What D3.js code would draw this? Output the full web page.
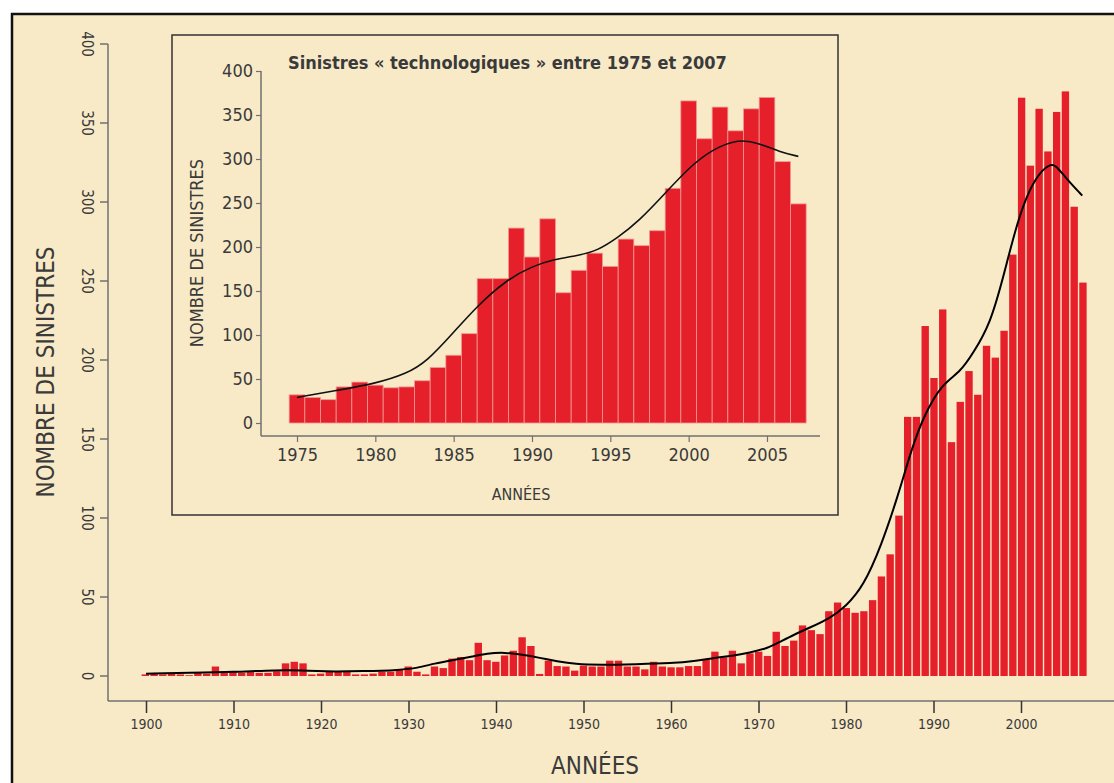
<!DOCTYPE html>
<meta charset="utf-8">
<style>
  body, html { margin: 0; padding: 0; background: #fff; }
  svg { display: block; }
  text { font-family: "Liberation Sans Narrow", "DejaVu Sans Condensed", "Liberation Sans", sans-serif; fill: #3a3a3a; }
</style>
<body>
<svg width="1114" height="783"></svg>
<script src="https://cdnjs.cloudflare.com/ajax/libs/d3/7.8.5/d3.min.js"></script>
<script>
// yearly counts 1900-2007
var startYear = 1900;
var counts = [
  1, 1.5, 1, 1.5, 1, 0.5, 2, 1.5, 6, 2,            // 1900-1909
  2.5, 2, 2.5, 2, 2, 3, 8, 9, 8, 1,                // 1910-1919
  1.5, 3, 3, 3, 1, 1, 1.5, 2.7, 2.7, 4,            // 1920-1929
  6, 2.7, 1, 6, 5, 11, 12, 10, 21, 10,             // 1930-1939
  9, 13, 16, 24.5, 19, 1.3, 9.7, 6.3, 6, 3.4,      // 1940-1949
  6.5, 6, 6, 9.7, 9.7, 6, 6, 4.2, 9, 6,            // 1950-1959
  5.5, 5.5, 6.3, 6.3, 10.5, 15.4, 11.8, 16, 8, 14.3, // 1960-1969
  15.4, 12.7, 28, 19, 22.4, 32, 29, 26.5, 41, 46.5,  // 1970-1979
  43, 40, 41, 48, 63, 77, 101.5, 164, 164, 221.5,    // 1980-1989
  188.6, 232, 148, 173.5, 193, 178, 209, 201.5, 218.5, 266.7, // 1990-1999
  366, 323, 359, 332, 357, 370, 297, 249            // 2000-2007
];

// smoothed trend drawn on the main chart
var trendYears = [1900, 1905, 1910, 1915, 1918, 1920, 1925, 1929, 1931, 1933, 1935, 1937, 1939, 1941,
  1943, 1945, 1947, 1949, 1952, 1956, 1960, 1963, 1965, 1967, 1969, 1971, 1972.5, 1974, 1976, 1978,
  1980, 1982, 1984, 1986, 1987.5, 1989, 1991, 1993, 1994.5, 1996.5, 1998, 1999.5, 2001, 2002.5,
  2003.5, 2004, 2005, 2007];
var trendValues = [1.5, 2, 2.5, 3.8, 3.5, 2.8, 3, 3.8, 5, 8, 10, 12, 14.3, 15,
  13.5, 11.5, 9.3, 7.5, 7, 7.5, 8, 9.7, 11.5, 12.7, 14.8, 17.5, 21.7, 26, 31, 36,
  44, 57, 82, 115, 144, 166, 185, 192, 204, 223, 253, 286, 309, 321,
  324, 323, 316, 304];

// smoothed trend of the inset
var insetTrendYears = [1975, 1977.5, 1980, 1982, 1983.3, 1985, 1986.5, 1988.4, 1990, 1991.4, 1993,
  1994.2, 1995.5, 1996.8, 1998.5, 2000, 2001.5, 2003.2, 2004.5, 2005.8, 2007];
var insetTrendValues = [29, 37, 44.7, 56, 70, 103, 133, 163, 178, 186, 190.5,
  196, 211, 229, 261, 290, 311, 323, 318, 308, 303];

var yTicks = [0, 50, 100, 150, 200, 250, 300, 350, 400];
var xTicksMain = [1900, 1910, 1920, 1930, 1940, 1950, 1960, 1970, 1980, 1990, 2000];
var xTicksInset = [1975, 1980, 1985, 1990, 1995, 2000, 2005];
var insetStart = 1975;

var data = counts.map(function(v, i) { return {year: startYear + i, value: v}; });
var insetData = data.filter(function(d) { return d.year >= insetStart; });

var svg = d3.select("svg");
var barColor = "#e5202a";
var axisColor = "#707070";

// cream panel with black frame
svg.append("rect")
    .attr("x", 12).attr("y", 14)
    .attr("width", 1114).attr("height", 783)
    .attr("fill", "#f8eac7")
    .attr("stroke", "#111")
    .attr("stroke-width", 2.5);

// ---------- main chart ----------
var x = d3.scaleLinear().domain([1900, 2000]).range([146, 1021]);
var y = d3.scaleLinear().domain([0, 400]).range([676, 44]);
var xb = d3.scaleBand()
    .domain(data.map(function(d) { return d.year; }))
    .range([x(1899.5), x(2007.5)])
    .paddingInner(0.16);
var axisY = 701, axisX = 108;

var g = svg.append("g");

g.selectAll(".bar")
    .data(data)
    .enter().append("rect")
    .attr("class", "bar")
    .attr("x", function(d) { return xb(d.year); })
    .attr("y", function(d) { return y(d.value); })
    .attr("width", xb.bandwidth())
    .attr("height", function(d) { return y(0) - y(d.value); })
    .attr("fill", barColor);

var line = d3.line()
    .x(function(d) { return x(d[0]); })
    .y(function(d) { return y(d[1]); })
    .curve(d3.curveBasis);

g.append("path")
    .datum(d3.zip(trendYears, trendValues))
    .attr("d", line)
    .attr("fill", "none")
    .attr("stroke", "#000")
    .attr("stroke-width", 2);

// y axis
g.append("line")
    .attr("x1", axisX).attr("x2", axisX)
    .attr("y1", y(400)).attr("y2", axisY)
    .attr("stroke", axisColor).attr("stroke-width", 1.5);
g.selectAll(".ytick")
    .data(yTicks)
    .enter().append("line")
    .attr("x1", axisX - 8).attr("x2", axisX)
    .attr("y1", function(d) { return y(d); })
    .attr("y2", function(d) { return y(d); })
    .attr("stroke", axisColor).attr("stroke-width", 1.5);
g.selectAll(".ylab")
    .data(yTicks)
    .enter().append("text")
    .attr("transform", function(d) { return "translate(82," + y(d) + ") rotate(90)"; })
    .attr("text-anchor", "middle")
    .style("font-size", "15px")
    .text(function(d) { return d; });

// x axis
g.append("line")
    .attr("x1", axisX).attr("x2", 1114)
    .attr("y1", axisY).attr("y2", axisY)
    .attr("stroke", axisColor).attr("stroke-width", 1.5);
var xAxis = g.append("g")
    .attr("transform", "translate(0," + axisY + ")")
    .call(d3.axisBottom(x).tickValues(xTicksMain).tickFormat(d3.format("d")).tickSize(12).tickPadding(6));
xAxis.select(".domain").remove();
xAxis.selectAll(".tick line").attr("stroke", "#333").attr("stroke-width", 1.5);
xAxis.selectAll(".tick text")
    .style("font-family", "'Liberation Sans Narrow', 'DejaVu Sans Condensed', sans-serif")
    .style("font-size", "14px")
    .attr("fill", "#3a3a3a");

g.append("text")
    .attr("transform", "translate(54,372) rotate(-90)")
    .attr("text-anchor", "middle")
    .style("font-size", "24px")
    .text("NOMBRE DE SINISTRES");
g.append("text")
    .attr("x", 595).attr("y", 774)
    .attr("text-anchor", "middle")
    .style("font-size", "24px")
    .text("ANNÉES");

// ---------- inset ----------
var gi = svg.append("g");
gi.append("rect")
    .attr("x", 172).attr("y", 35)
    .attr("width", 666).attr("height", 480)
    .attr("fill", "#f8eac7")
    .attr("stroke", "#333")
    .attr("stroke-width", 1.5);

var xi = d3.scaleLinear().domain([1975, 2005]).range([297, 767]);
var yi = d3.scaleLinear().domain([0, 400]).range([423, 71]);
var xib = d3.scaleBand()
    .domain(insetData.map(function(d) { return d.year; }))
    .range([xi(1974.5), xi(2007.5)])
    .paddingInner(0);
var iAxisY = 436, iAxisX = 261;

gi.selectAll(".ibar")
    .data(insetData)
    .enter().append("rect")
    .attr("class", "ibar")
    .attr("x", function(d) { return xib(d.year); })
    .attr("y", function(d) { return yi(d.value); })
    .attr("width", xib.bandwidth())
    .attr("height", function(d) { return yi(0) - yi(d.value); })
    .attr("fill", barColor)
    .attr("stroke", "#f29a92")
    .attr("stroke-width", 0.8);

var iline = d3.line()
    .x(function(d) { return xi(d[0]); })
    .y(function(d) { return yi(d[1]); })
    .curve(d3.curveBasis);

gi.append("path")
    .datum(d3.zip(insetTrendYears, insetTrendValues))
    .attr("d", iline)
    .attr("fill", "none")
    .attr("stroke", "#111")
    .attr("stroke-width", 1.6);

gi.append("line")
    .attr("x1", iAxisX).attr("x2", iAxisX)
    .attr("y1", yi(400)).attr("y2", iAxisY)
    .attr("stroke", axisColor).attr("stroke-width", 1.5);
gi.append("line")
    .attr("x1", iAxisX).attr("x2", 820)
    .attr("y1", iAxisY).attr("y2", iAxisY)
    .attr("stroke", axisColor).attr("stroke-width", 1.5);

var yAxisI = gi.append("g")
    .attr("transform", "translate(" + iAxisX + ",0)")
    .call(d3.axisLeft(yi).tickValues(yTicks).tickSize(5).tickPadding(3));
yAxisI.select(".domain").remove();
yAxisI.selectAll(".tick line").attr("stroke", axisColor).attr("stroke-width", 1.2);
yAxisI.selectAll(".tick text")
    .style("font-family", "'Liberation Sans Narrow', 'DejaVu Sans Condensed', sans-serif")
    .style("font-size", "18px")
    .attr("fill", "#3a3a3a");

var xAxisI = gi.append("g")
    .attr("transform", "translate(0," + iAxisY + ")")
    .call(d3.axisBottom(xi).tickValues(xTicksInset).tickFormat(d3.format("d")).tickSize(6).tickPadding(6));
xAxisI.select(".domain").remove();
xAxisI.selectAll(".tick line").attr("stroke", axisColor).attr("stroke-width", 1.2);
xAxisI.selectAll(".tick text")
    .style("font-family", "'Liberation Sans Narrow', 'DejaVu Sans Condensed', sans-serif")
    .style("font-size", "18px")
    .attr("fill", "#3a3a3a");

gi.append("text")
    .attr("transform", "translate(203,253) rotate(-90)")
    .attr("text-anchor", "middle")
    .style("font-size", "18px")
    .text("NOMBRE DE SINISTRES");
gi.append("text")
    .attr("x", 521).attr("y", 500)
    .attr("text-anchor", "middle")
    .style("font-size", "16px")
    .text("ANNÉES");
gi.append("text")
    .attr("x", 288).attr("y", 69)
    .style("font-size", "18px")
    .style("font-weight", "bold")
    .text("Sinistres « technologiques » entre 1975 et 2007");
</script>
</body>
